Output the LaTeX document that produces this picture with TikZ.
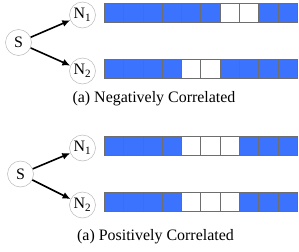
\documentclass[tikz,border=0pt]{standalone}
\usepackage{fontspec}
\setmainfont{Liberation Serif}
\usetikzlibrary{arrows.meta}
\definecolor{cellblue}{HTML}{3B73FF}
\definecolor{cellline}{HTML}{6E6E6E}
\newcommand\mycellrow[2]{%
  \foreach \i in {0,...,9} {\draw[cellbox, fill=cellblue] ({104.3+19.3*\i},#1) rectangle ++(19.3,19.5);}
  \foreach \i in {#2} {\draw[cellbox, fill=white] ({104.3+19.3*\i},#1) rectangle ++(19.3,19.5);}
}
\begin{document}
\begin{tikzpicture}[x=1bp,y=-1bp,
  vnode/.style={circle, draw=gray!55, line width=0.5bp, fill=white, minimum size=26bp, inner sep=0pt, font=\fontsize{16}{16}\selectfont},
  arr/.style={line width=1.6bp, -{Latex[length=8bp,width=7bp]}},
  cellbox/.style={draw=cellline, line width=0.7bp},
  caption/.style={font=\fontsize{16}{16}\selectfont}]
\useasboundingbox (0,0) rectangle (299,252);
% top
\node[vnode] (s1) at (18.5,42.5) {S};
\node[vnode] (n11) at (82.5,15) {N\textsubscript{1}};
\node[vnode] (n12) at (82.5,71) {N\textsubscript{2}};
\draw[arr] (s1) -- (n11);
\draw[arr] (s1) -- (n12);
\mycellrow{3.3}{6,7}
\mycellrow{59}{4,5}
\node[caption] (c1) at (154,99) {(a) Negatively Correlated};
% bottom
\node[vnode] (s2) at (20.5,174) {S};
\node[vnode] (n21) at (82.5,148) {N\textsubscript{1}};
\node[vnode] (n22) at (82.5,205) {N\textsubscript{2}};
\draw[arr] (s2) -- (n21);
\draw[arr] (s2) -- (n22);
\mycellrow{136.3}{4,5,6}
\mycellrow{192.3}{4,5,6}
\node[caption] (c2) at (155.5,237) {(a) Positively Correlated};
\end{tikzpicture}
\end{document}
